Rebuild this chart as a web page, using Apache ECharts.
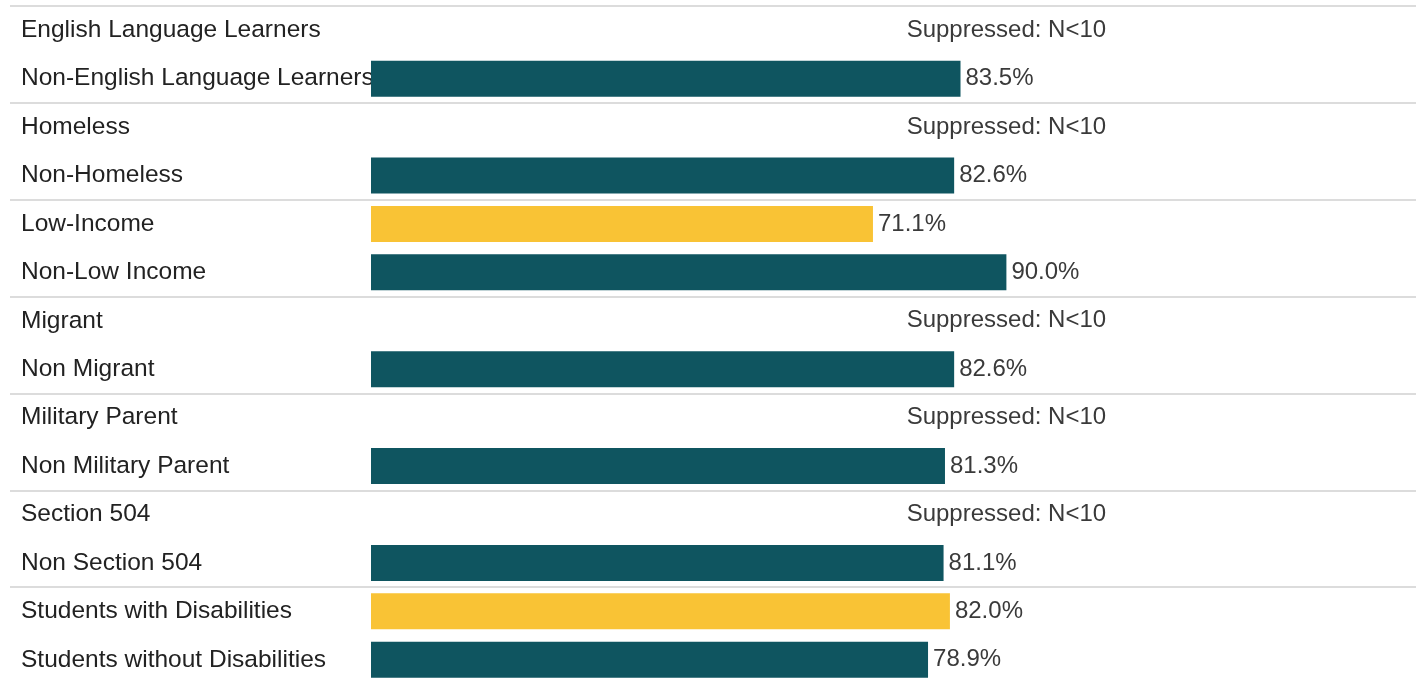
<!DOCTYPE html>
<html>
<head>
<meta charset="utf-8">
<script src="https://cdn.jsdelivr.net/npm/echarts@6/dist/echarts.min.js"></script>
<style>
html,body{margin:0;padding:0;background:#fff;overflow:hidden;}
#chart{width:1416px;height:700px;}
</style>
</head>
<body>
<div id="chart"></div>
<script>
const categories = [
  'English Language Learners', 'Non-English Language Learners',
  'Homeless', 'Non-Homeless',
  'Low-Income', 'Non-Low Income',
  'Migrant', 'Non Migrant',
  'Military Parent', 'Non Military Parent',
  'Section 504', 'Non Section 504',
  'Students with Disabilities', 'Students without Disabilities'
];
const values = [null, 83.5, null, 82.6, 71.1, 90.0, null, 82.6, null, 81.3, null, 81.1, 82.0, 78.9];
const highlighted = [false, false, false, false, true, false, false, false, false, false, false, false, true, false];
const suppressed = [true, false, true, false, false, false, true, false, true, false, true, false, false, false];
const suppressedText = 'Suppressed: N<10';

const TEAL = '#0f5560';
const GOLD = '#f9c335';
const FONT = 'Arial';
const SUPPRESSED_ANCHOR = 90.0;

const chart = echarts.init(document.getElementById('chart'), null, {renderer: 'canvas'});

const barData = values.map((v, i) => ({
  value: v,
  itemStyle: {color: highlighted[i] ? GOLD : TEAL}
}));
const suppData = suppressed.map(s => s ? SUPPRESSED_ANCHOR : null);

chart.setOption({
  animation: false,
  grid: [
    {left: 10, right: 0, top: 6, height: 678},
    {left: 371, right: 339, top: 6, height: 678}
  ],
  xAxis: [
    {gridIndex: 0, type: 'value', show: false, min: 0, max: 100},
    {gridIndex: 1, type: 'value', show: false, min: 0, max: 100}
  ],
  yAxis: [
    {
      gridIndex: 0, type: 'category', data: categories, inverse: true,
      axisLine: {show: false}, axisTick: {show: false},
      axisLabel: {
        show: true, align: 'left', margin: -11,
        color: '#222', fontSize: 24.5, fontFamily: FONT
      },
      splitLine: {
        show: true,
        interval: function (idx) { return idx % 2 === 0; },
        lineStyle: {color: '#dcdcdc', width: 2}
      }
    },
    {
      gridIndex: 1, type: 'category', data: categories, inverse: true, show: false
    }
  ],
  series: [
    {
      type: 'bar', xAxisIndex: 1, yAxisIndex: 1,
      data: barData, barWidth: 36,
      label: {
        show: true, position: 'right', distance: 5,
        formatter: p => p.value == null ? '' : p.value.toFixed(1) + '%',
        color: '#3a3a3a', fontSize: 24, fontFamily: FONT
      }
    },
    {
      type: 'scatter', xAxisIndex: 1, yAxisIndex: 1,
      data: suppData, symbolSize: 0, silent: true,
      itemStyle: {opacity: 1},
      label: {
        show: true, position: 'inside', opacity: 1,
        formatter: () => suppressedText,
        color: '#3a3a3a', fontSize: 24, fontFamily: FONT
      }
    }
  ]
});
</script>
</body>
</html>
